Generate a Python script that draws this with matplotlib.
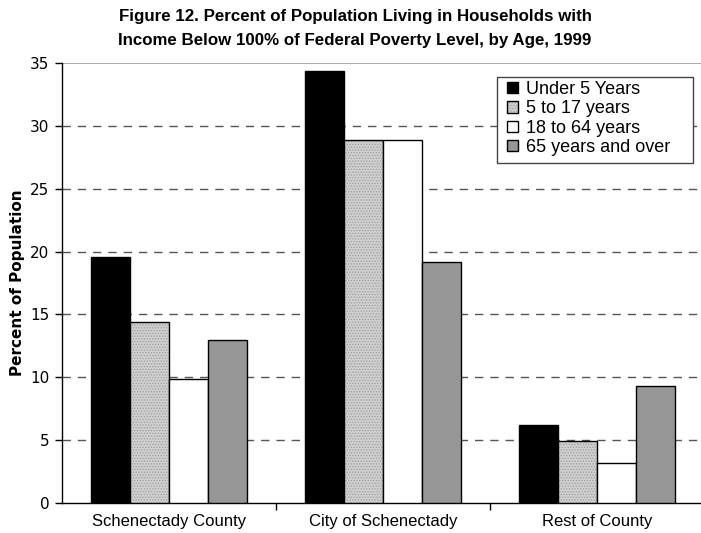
import matplotlib
matplotlib.use("Agg")
import matplotlib.pyplot as plt
from matplotlib.patches import Rectangle
import numpy as np

plt.rcParams['font.family'] = ['Liberation Sans', 'DejaVu Sans']
plt.rcParams['hatch.linewidth'] = 0.6

places = ["Schenectady County", "City of Schenectady", "Rest of County"]
age_groups = ["Under 5 Years", "5 to 17 years", "18 to 64 years", "65 years and over"]
under_5 = [19.6, 34.4, 6.2]
age_5_17 = [14.4, 28.9, 4.9]
age_18_64 = [9.9, 28.9, 3.2]
age_65_plus = [13.0, 19.2, 9.3]
y_ticks = [0, 5, 10, 15, 20, 25, 30, 35]

series = [under_5, age_5_17, age_18_64, age_65_plus]
faces = ["#000000", "#cfcfcf", "#ffffff", "#969696"]
hatches = [None, "......", None, None]

W, H = 701, 533
fig = plt.figure(figsize=(W / 100, H / 100), dpi=100)
ax = fig.add_axes([62 / W, 1 - 503 / H, 642 / W, 440 / H])

x = np.arange(len(places))
w = 0.182
for i, (vals, fc, h) in enumerate(zip(series, faces, hatches)):
    bars = ax.bar(x + (i - 1.5) * w, vals, width=w, color=fc, edgecolor="black",
                  linewidth=1.0, label=age_groups[i], zorder=3)
    if h:
        for b in bars:
            b.set_hatch(h)
            b._hatch_color = (0.62, 0.62, 0.62, 1.0)

ax.set_xlim(-0.5, 2.5)
ax.set_ylim(0, 35)
ax.set_yticks(y_ticks)
ax.set_yticklabels([str(t) for t in y_ticks], family=["DejaVu Sans"], fontsize=11)
ax.set_xticks(x)
ax.set_xticklabels(places, fontsize=12)
ax.set_xticks([0.5, 1.5], minor=True)
ax.tick_params(axis="x", which="major", length=0, pad=8)
ax.tick_params(axis="x", which="minor", length=5, width=1)
ax.tick_params(axis="y", length=5, width=1, pad=4)

for v in y_ticks[1:-1]:
    ax.axhline(v, color="#555555", linewidth=1.0, linestyle=(0, (6, 5)), zorder=1)
ax.axhline(35, color="#999999", linewidth=1.2, zorder=1)

for s in ["top", "right"]:
    ax.spines[s].set_visible(False)
ax.spines["left"].set_linewidth(1.0)
ax.spines["bottom"].set_linewidth(1.0)

ax.set_ylabel("Percent of Population", fontsize=11, fontweight="bold",
              family=["DejaVu Sans"], labelpad=4)

title_font = dict(ha="center", va="center", fontsize=12.2, fontweight="bold")
fig.text(355 / W, 1 - 17 / H, "Figure 12. Percent of Population Living in Households with",
         **title_font)
fig.text(355 / W, 1 - 41 / H, "Income Below 100% of Federal Poverty Level, by Age, 1999",
         **title_font)

# legend box drawn as a separate frame so it can be wider than its entries
ax.add_patch(Rectangle((497 / W, 1 - 163 / H), 196 / W, 86 / H,
                       transform=fig.transFigure, facecolor="white",
                       edgecolor="#444444", linewidth=1.0, zorder=4, clip_on=False))
leg = ax.legend(loc="upper left", bbox_to_anchor=(507 / W, 1 - 81 / H),
                bbox_transform=fig.transFigure, fontsize=13, frameon=False,
                handlelength=0.6, handleheight=0.6,
                handletextpad=0.45, borderpad=0.0, labelspacing=0.13,
                borderaxespad=0)
leg.set_zorder(5)

fig.savefig("out.png", dpi=100)
